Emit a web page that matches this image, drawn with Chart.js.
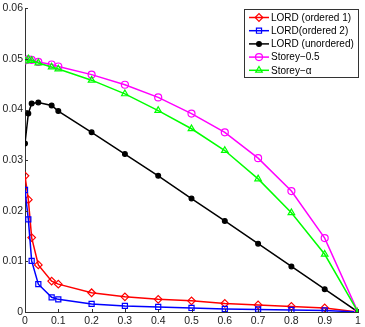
<!DOCTYPE html>
<html>
<head>
<meta charset="utf-8">
<script src="https://cdn.jsdelivr.net/npm/chart.js@4"></script>
<style>
  html, body { margin: 0; padding: 0; background: #fff; }
  #wrap { width: 365px; height: 327px; }
</style>
</head>
<body>
<div id="wrap"><canvas id="chart" width="365" height="327"></canvas></div>
<script>
const xValues = [0, 0.01, 0.02, 0.04, 0.08, 0.1, 0.2, 0.3, 0.4, 0.5, 0.6, 0.7, 0.8, 0.9, 1];
const lordOrdered1 = [0.0269, 0.0222, 0.0147, 0.0093, 0.0061, 0.0055, 0.0038, 0.0030, 0.0025, 0.0022, 0.0017, 0.0014, 0.0011, 0.0008, 0];
const lordOrdered2 = [0.0241, 0.0183, 0.0101, 0.0055, 0.0029, 0.0025, 0.0016, 0.0012, 0.0010, 0.0008, 0.0006, 0.0005, 0.0004, 0.0003, 0];
const lordUnordered = [0.0333, 0.0392, 0.0412, 0.0414, 0.0408, 0.0397, 0.0355, 0.0312, 0.0269, 0.0224, 0.0180, 0.0135, 0.0090, 0.0045, 0];
const storey05 = [0.0497, 0.0499, 0.0498, 0.0494, 0.0489, 0.0485, 0.0469, 0.0449, 0.0424, 0.0392, 0.0355, 0.0304, 0.0239, 0.0146, 0];
const storeyAlpha = [0.0496, 0.0500, 0.0497, 0.0492, 0.0484, 0.0480, 0.0458, 0.0431, 0.0398, 0.0362, 0.0319, 0.0263, 0.0196, 0.0114, 0];
const seriesNames = ['LORD (ordered 1)', 'LORD(ordered 2)', 'LORD (unordered)', 'Storey\u22120.5', 'Storey\u2212\u03b1'];

const toPoints = ys => ys.map((y, i) => ({ x: xValues[i], y: y }));

const styles = [
    { color: '#ff0000', pointStyle: 'rectRot', radius: 3.8, fill: 'transparent' },
    { color: '#0000ff', pointStyle: 'rect', radius: 3.6, fill: 'transparent' },
    { color: '#000000', pointStyle: 'circle', radius: 2.4, fill: '#000000' },
    { color: '#ff00ff', pointStyle: 'circle', radius: 3.5, fill: 'transparent' },
    { color: '#00ff00', pointStyle: 'triangle', radius: 3.8, fill: 'transparent' }
];
const allSeries = [lordOrdered1, lordOrdered2, lordUnordered, storey05, storeyAlpha];

const datasets = allSeries.map((ys, i) => ({
    label: seriesNames[i],
    data: toPoints(ys),
    borderColor: styles[i].color,
    backgroundColor: styles[i].fill,
    pointBorderColor: styles[i].color,
    pointBackgroundColor: styles[i].fill,
    pointStyle: styles[i].pointStyle,
    pointRadius: styles[i].radius,
    pointBorderWidth: 1.2,
    borderWidth: 1.5,
    tension: 0,
    order: 4 - i
}));

const FONT = '"Liberation Sans", Arial, sans-serif';

// matlab style legend: line with marker in the middle
const boxLegend = {
    id: 'boxLegend',
    afterDraw(chart) {
        const ctx = chart.ctx;
        const left = 244, top = 9, w = 114, h = 68;
        ctx.save();
        ctx.fillStyle = '#fff';
        ctx.fillRect(left, top, w, h);
        ctx.strokeStyle = '#333';
        ctx.lineWidth = 1;
        ctx.strokeRect(left + 0.5, top + 0.5, w, h);
        ctx.font = '10px ' + FONT;
        ctx.textBaseline = 'middle';
        seriesNames.forEach((name, i) => {
            const y = top + 8.5 + i * 13.2;
            const st = styles[i];
            ctx.strokeStyle = st.color;
            ctx.lineWidth = 1.5;
            ctx.beginPath();
            ctx.moveTo(249, y);
            ctx.lineTo(269, y);
            ctx.stroke();
            ctx.fillStyle = st.fill;
            ctx.lineWidth = 1.2;
            Chart.helpers.drawPoint(ctx, { pointStyle: st.pointStyle, radius: st.radius, rotation: 0, borderWidth: 1.2 }, 259, y);
            ctx.fillStyle = '#000';
            ctx.fillText(name, 271, y + 0.5);
        });
        ctx.restore();
    }
};

// short tick marks pointing into the plot, like matlab
const innerTicks = {
    id: 'innerTicks',
    afterDatasetsDraw(chart) {
        const ctx = chart.ctx;
        const xs = chart.scales.x, ys = chart.scales.y;
        const a = chart.chartArea;
        ctx.save();
        ctx.strokeStyle = '#333';
        ctx.lineWidth = 1;
        ctx.beginPath();
        xs.ticks.forEach(t => {
            const px = Math.round(xs.getPixelForValue(t.value)) + 0.5;
            ctx.moveTo(px, a.bottom);
            ctx.lineTo(px, a.bottom - 3);
        });
        ys.ticks.forEach(t => {
            const py = Math.round(ys.getPixelForValue(t.value)) + 0.5;
            ctx.moveTo(a.left, py);
            ctx.lineTo(a.left + 3, py);
        });
        ctx.stroke();
        ctx.restore();
    }
};

const fmt = v => String(Number(v.toFixed(2)));

new Chart(document.getElementById('chart'), {
    type: 'line',
    data: { datasets: datasets },
    options: {
        responsive: false,
        animation: false,
        layout: { padding: { top: 6, right: 7, left: 0, bottom: 0 } },
        plugins: {
            legend: { display: false },
            tooltip: { enabled: false }
        },
        scales: {
            x: {
                type: 'linear',
                min: 0,
                max: 1,
                afterFit: s => { s.height = 15; },
                grid: { display: false, drawTicks: false },
                border: { display: true, color: '#333', width: 1 },
                ticks: {
                    stepSize: 0.1,
                    padding: 3,
                    color: '#222',
                    font: { family: FONT, size: 10.5 },
                    callback: v => fmt(v),
                    maxRotation: 0
                }
            },
            y: {
                min: 0,
                max: 0.06,
                afterFit: s => { s.width = 25; },
                grid: { display: false, drawTicks: false },
                border: { display: true, color: '#333', width: 1 },
                ticks: {
                    stepSize: 0.01,
                    padding: 2,
                    color: '#222',
                    font: { family: FONT, size: 10.5 },
                    callback: v => fmt(v)
                }
            }
        }
    },
    plugins: [boxLegend, innerTicks]
});
</script>
</body>
</html>
